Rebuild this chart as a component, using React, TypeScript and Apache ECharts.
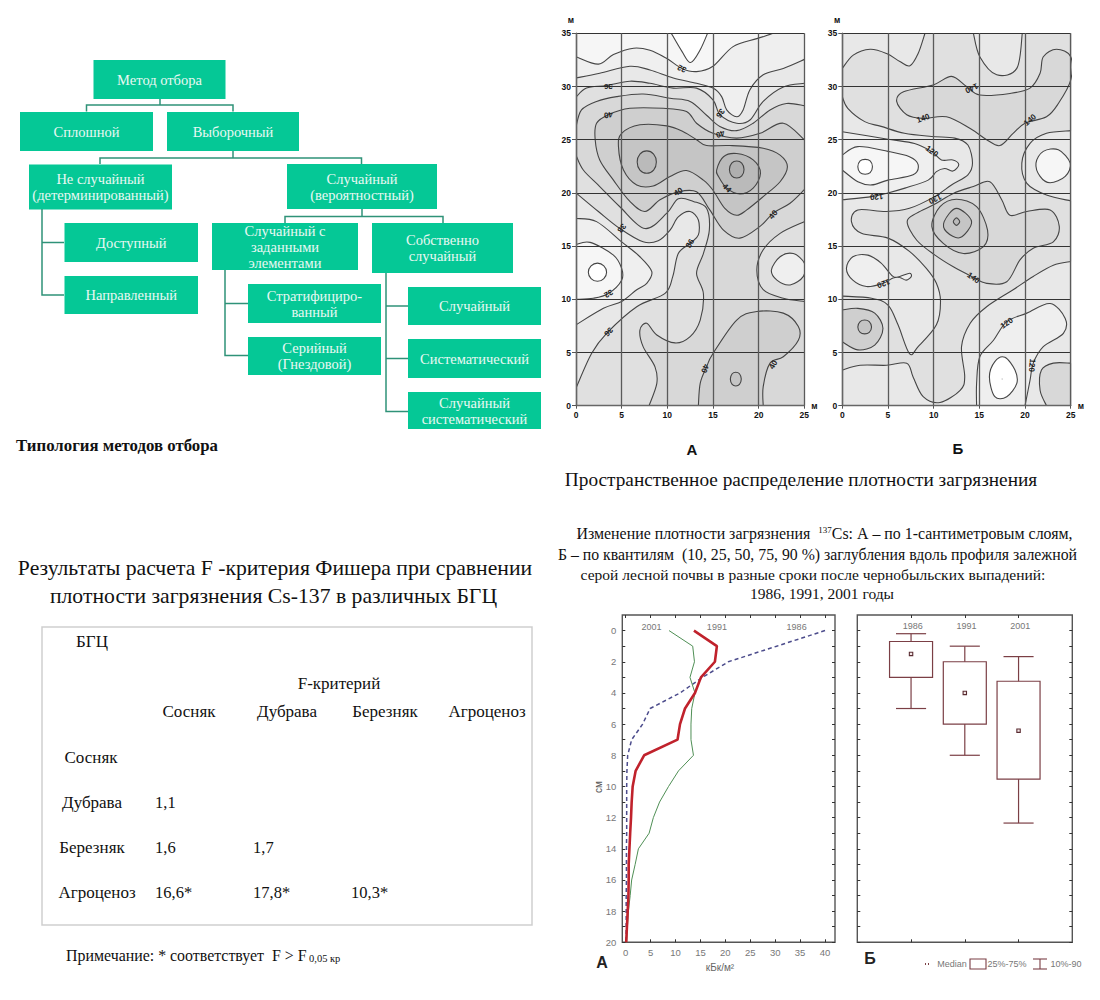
import React, { useEffect, useRef } from "react";
import * as echarts from "echarts";

type Pt = number[];
const SERIF = '"Liberation Serif", serif';
const SANS = '"Liberation Sans", sans-serif';

// ---------- contour levels of map A, metres ----------
const aC1: Pt[] = [[10.3,35.2],[11.6,33.3],[12.55,32.25],[13.6,33.45],[14.5,35.2]];
const aC2: Pt[] = [[-0.5,33],[0,32.8],[2.45,32.1],[4.1,33],[6.3,33.6],[8.1,33.4],[9.9,32.65],[11.6,31.7],[13.2,31.4],[15,31.9],[17.2,33.75],[19.8,34.5],[21.6,35],[22.6,35.4]];
const aC3: Pt[] = [[0,30.8],[2.6,31.25],[5.9,31.9],[8.1,31.55],[10.65,30.8],[13.2,30.3],[15,29.85],[15.95,29.05],[16.5,27.8],[17.6,27.15],[18.3,27.8],[19.05,29.7],[20.5,31.1],[22.7,31.7],[25,32.55]];
const aC4: Pt[] = [[0,29],[1.15,29.85],[3.35,30.1],[5.9,30.5],[8.1,30.3],[10.65,29.85],[13.2,29.85],[15,28.75],[15.8,27.3],[17.6,26.55],[19.05,26.85],[20.5,28.6],[22.7,29.95],[25,30.3]];
const aC5: Pt[] = [[0,26.2],[0.6,27.8],[2.25,28.6],[4.45,29.05],[7.35,29.3],[10.3,28.9],[12.5,28.6],[14.3,27.3],[15.75,26.25],[17.6,25.85],[19.4,26.55],[21.25,27.8],[23.05,28.4],[25,28.2]];
const aC6: Pt[] = [[25,20.3],[23.4,19],[21.6,18.1],[20.15,16.85],[17.95,15.75],[16.15,16.5],[14.65,18.4],[13.2,20.1],[11.2,20.1],[9.2,19.35],[7.55,18.25],[5.9,19.2],[4.1,21.2],[2.6,23.1],[2.1,25],[2.25,26.55],[3.55,27.35],[5.9,27.95],[9.55,27.95],[12.1,27.65],[13.2,26.55],[15,25.6],[17.6,25.15],[20.15,25.6],[22.7,26.55],[25,25]];
const aCore: Pt[] = [[4.65,24.35],[5,25.6],[7,26.4],[9.95,26.3],[11.75,25.75],[13.2,25],[14.3,24.45],[16.85,24.45],[20.5,24.2],[22.35,23.55],[23.15,22.45],[22.35,21.05],[20.5,19.65],[18.7,18.4],[17.6,17.9],[16.3,18.55],[15,20.25],[13.95,21.2],[12.1,22.1],[10.3,21.55],[8.45,20.65],[6.65,20.75],[5.2,22.15]];
const aOval: Pt[] = [[15.4,22.15],[16.15,23.4],[17.6,23.7],[19.4,23.1],[20.2,21.85],[19.4,20.45],[17.95,19.9],[16.5,20.45],[15.6,21.55]];
const aPeak1: Pt[] = [[6.7,22.9],[7,23.65],[7.75,23.95],[8.5,23.65],[8.8,22.9],[8.5,22.15],[7.75,21.85],[7,22.15]];
const aPeak2: Pt[] = [[16.8,22.2],[17.05,22.8],[17.6,23],[18.15,22.8],[18.4,22.2],[18.15,21.6],[17.6,21.4],[17.05,21.6]];
const aL1: Pt[] = [[0,23.55],[0.8,22.15],[2.6,20.6],[4.8,18.7],[7.55,16.65],[9.95,18.1],[11.2,19.45],[12.85,19.2],[14.3,18.55],[14.6,16.5],[13.95,14.3],[13.2,12.45],[13.95,10.55],[13.6,8.05],[12.5,6.5],[10.85,5.9],[8.85,6.65],[7.75,7.75],[7,7.1],[7.35,5.55],[8.65,3.65],[8.85,2.1],[8,0]];
const aL2: Pt[] = [[0,20],[2.45,18.25],[4.8,16.65],[7.35,15.4],[9,15.5],[10.3,16.5],[11.2,17.75],[12.5,18.25],[13.4,17.45],[13.4,16.05],[12.5,15.25],[11.2,14.3],[10.6,12.15],[9.75,10.55],[6.65,9.3],[3.35,6.8],[1.7,4.9],[0,1.65]];
const aY: Pt[] = [[0,17.6],[2.25,17.3],[5,15.4],[7,14],[8.3,12.6],[7.75,11.5],[6.65,10.9],[5,9.8],[3,9.15],[0,7.6]];
const aX: Pt[] = [[0,15.15],[1.55,15.35],[4.1,14.15],[5,12.9],[5,11.8],[3.55,10.55],[1.9,10.1],[0,10]];
const aLow: Pt[] = [[1.35,12.55],[1.65,13.15],[2.35,13.4],[3.05,13.15],[3.35,12.55],[3.05,11.95],[2.35,11.7],[1.65,11.95]];
const aRightOuter: Pt[] = [[25,17.3],[22.35,16.2],[20.5,14.65],[19.8,12.75],[20.5,10.9],[22.7,10.1],[25,9.8]];
const aRightInner: Pt[] = [[21.4,12.75],[22.35,14],[23.8,14.3],[25,13.4],[24.9,12.15],[23.45,11.35],[22,11.8]];
const aBottom: Pt[] = [[13.4,0],[13.6,2.1],[14.3,3.65],[15,4.9],[17.6,8.05],[19.8,8.85],[22.7,8.7],[24.35,7.45],[24.35,6.15],[22.7,4.6],[21.25,4],[20.5,1.8],[20.5,0]];
const aBottomOval: Pt[] = [[16.9,2.5],[17.1,3],[17.5,3.15],[17.9,3],[18.1,2.5],[17.9,2],[17.5,1.85],[17.1,2]];

// ---------- contour levels of map Б, metres ----------
const bT1: Pt[] = [[9.05,35],[8.3,33.1],[7.4,31.95],[6.3,32.35],[4.85,33.1],[3.05,33.5],[1.2,32.95],[0,31.7]];
const bTop: Pt[] = [[14.35,35],[15.05,32.8],[16.9,31.1],[19.1,31.7],[19.7,35]];
const bD1: Pt[] = [[5.95,28.6],[6.7,29.5],[9.95,30.15],[11.95,30.95],[13.6,30],[15.05,29.2],[18.35,29.35],[20.55,29.85],[21.65,31.25],[22,32.8],[23.45,33.5],[25,32.8],[25,30.6],[23.65,28.4],[22.35,27.15],[20,26.55],[18.7,25.6],[17.25,24.45],[15.8,25],[14,26.05],[11.4,27.15],[8.85,27],[7.05,27.35]];
const bT8: Pt[] = [[0,29.05],[0.6,27.95],[2.45,26.7],[4.25,26.25],[6.8,25.6],[9.75,25.3],[12.3,25.15],[13.75,24.5],[14.25,22.8],[13.75,21.7],[11.95,20.75],[10.1,19.65],[7.35,18.55],[4.8,18.25],[1.7,18.4],[1,17.3],[2.1,16.2],[5,15.75],[7.35,14.5],[9.2,12.9],[10.3,11.5],[10.75,9.8],[10.3,7.6],[8.3,5.55],[7.35,4.9],[6.1,7.6],[5,9.45],[3.2,10.1],[0,10.3]];
const bT3: Pt[] = [[0,25.75],[5,25.05],[7.9,24.65],[9.75,23.9],[10.85,23.1],[12.1,23.1],[12.75,22.65],[12.1,22.05],[11.2,22.3],[10.3,22],[9.4,21.2],[6.85,20.45],[4.8,19.95],[3.2,19.65],[0,19.35]];
const bT4: Pt[] = [[0,23.55],[1.7,24.35],[5,23.9],[7.35,23.4],[8.3,22.65],[7.75,21.7],[5,21.2],[3.2,20.75],[1.7,21.05],[0,22.15]];
const bLow: Pt[] = [[1.7,22.45],[1.95,23],[2.5,23.15],[3.05,23],[3.3,22.45],[3.05,21.9],[2.5,21.75],[1.95,21.9]];
const bT9: Pt[] = [[0.45,12.9],[1.15,14],[2.8,14.15],[4.25,13.4],[5.55,12.15],[6.3,12.15],[7.35,12.45],[7.55,12.15],[7,11.8],[6.3,12.05],[5.55,12],[4.45,11.5],[2.65,11.2],[1.15,11.8]];
const bLobe: Pt[] = [[7.1,17.3],[8.15,18.1],[10.15,18.95],[12.15,19.95],[14.35,20.6],[16.15,21.05],[17.45,19.35],[18.35,17.9],[20.2,18.25],[22.75,18.4],[23.75,16.85],[23.1,15.4],[20.9,14.8],[19.45,13.7],[18,11.65],[15.8,11.5],[14.15,12.15],[12.15,13.05],[10.15,14.15],[8.15,15.55]];
const bPeak1: Pt[] = [[9.8,16.85],[10.7,18.7],[12.5,19.4],[14.7,18.7],[15.9,16.5],[15.45,14.95],[13.25,14.3],[11.05,15.25]];
const bPeak2: Pt[] = [[11.15,17.3],[12.5,18.55],[14.15,17.3],[12.9,15.8],[11.4,16.35]];
const bPeak3: Pt[] = [[12.15,17.3],[12.5,17.65],[12.85,17.3],[12.5,16.95]];
const bLeft1: Pt[] = [[0,9],[1.7,9.15],[3.55,8.7],[4.45,7.25],[3.55,5.7],[1.7,5.25],[0,6]];
const bLeft2: Pt[] = [[1.7,7.4],[1.95,7.9],[2.45,8.05],[2.95,7.9],[3.2,7.4],[2.95,6.9],[2.45,6.75],[1.95,6.9]];
const bT6: Pt[] = [[25,13.55],[23.1,13.2],[20.9,12.15],[18.7,10.9],[15.8,9.3],[14,7.75],[13.05,5.55],[13.4,2.7],[12.9,1.45],[10.7,0.3],[8.85,0.85],[7.75,2.7],[7.05,4],[4.85,3.8],[1.95,3.8],[0,3.35]];
const bT10: Pt[] = [[14.7,0],[14.7,2.1],[15.05,4.6],[16.55,6.15],[18,7.9],[20.2,8.7],[22.75,9.6],[24.4,8.2],[24.2,6.8],[22,5.55],[20.9,4],[20.55,2.4],[20,0]];
const bOval: Pt[] = [[16.1,2.7],[16.7,4.15],[17.8,4.55],[18.9,3.35],[19.1,2.1],[18,0.85],[16.7,0.85]];
const bOvalDot: Pt[] = [[17.42,2.5],[17.5,2.58],[17.58,2.5],[17.5,2.42]];
const bCorner: Pt[] = [[22.35,0],[21.65,1.45],[21.8,3.35],[23.1,4],[25,4]];
const bRightOuter: Pt[] = [[25,25.85],[22.35,25.6],[20.55,24.65],[19.65,22.8],[20.2,20.9],[22.35,19.8],[25,19.25]];
const bRightInner: Pt[] = [[21.2,22.8],[22,23.9],[23.65,24.05],[24.95,22.8],[24.4,21.55],[22.75,20.95],[21.65,21.55]];

// contour labels: x, y, text, angle
const aLabels: any[][] = [
  [11.6,31.7,"32",155],[3.55,30,"36",180],[3.55,27.35,"40",190],[15.8,27.5,"36",235],[15.8,25.55,"40",200],
  [11.2,20.1,"40",30],[16.5,20.45,"44",-45],[21.6,17.95,"40",50],[5,16.7,"38",230],[12.5,15.25,"36",60],
  [3.55,10.55,"32",210],[3.55,6.95,"36",225],[14.1,3.5,"40",250],[21.6,3.85,"40",60],
];
const bLabels: any[][] = [
  [14.15,29.85,"140",205],[8.85,27,"140",20],[20.55,26.85,"140",40],[9.8,23.9,"120",-35],[10.15,19.45,"130",205],
  [3.75,19.65,"120",185],[4.5,11.5,"120",200],[14.35,12,"140",-35],[18,7.75,"120",35],[20.75,3.8,"120",265],
];

// ---------- soil profile ----------
const depths = [0,1,2,3,4,5,6,7,8,9,10,11,12,13,14,15,16,17,18,19,20];
const y1986 = [40,30.3,20.6,15.4,10.9,4.9,3.4,1.2,0.4,0.25,0.2,0.2,0.2,0.2,0.15,0.15,0.15,0.1,0.1,0.1,0.1];
const y1991 = [13.7,18.3,17.9,15.1,13.9,11.9,10.9,10.4,3.7,2,1.4,1.2,1.07,0.9,0.75,0.6,0.6,0.55,0.4,0.25,0.1];
const y2001 = [8.7,13.45,13.8,12.9,13.9,13.25,13.1,13.1,13.6,10.6,8.6,6.8,5.55,4.7,2.55,1.9,1.2,0.9,0.55,0.35,0.2];
const profileYearLabels: any[][] = [[5.2,-0.2,"2001",0],[18.3,-0.2,"1991",0],[34.3,-0.2,"1986",0]];

const boxYears = ["1986","1991","2001"];
const p10 = [0.2,1,1.67];
const q25 = [0.7,2,3.25];
const medians = [1.5,4,6.42];
const q75 = [3,6,9.53];
const p90 = [5,8,12.35];

// ---------- organisational chart ----------
const orgLabels = [
  "Метод отбора","Сплошной","Выборочный","Не случайный\n(детерминированный)","Доступный","Направленный",
  "Случайный\n(вероятностный)","Случайный с\nзаданными\nэлементами","Собственно\nслучайный","Стратифициро-\nванный",
  "Серийный\n(Гнездовой)","Случайный","Систематический","Случайный\nсистематический",
];

// ---------- table ----------
const tableColumns = ["Сосняк","Дубрава","Березняк","Агроценоз"];
const tableRows = ["Сосняк","Дубрава","Березняк","Агроценоз"];
const fValues = [["","",""],["1,1","",""],["1,6","1,7",""],["16,6*","17,8*","10,3*"]];

const shades = ["#ffffff","#f6f6f6","#efefef","#e8e8e8","#e0e0e0","#d8d8d8","#cfcfcf","#c5c5c5","#bababa","#afafaf"];
const W = -2, E = 27, S = -2, N = 37;

const layersA: any[] = [
  { pts: [[W,N],[E,N],[E,S],[W,S]], band: 5, closed: true, noLine: true },
  { pts: aC5, band: 4, via: [[E,28.2],[E,N],[W,N],[W,26.2]] },
  { pts: aC4, band: 3, via: [[E,30.3],[E,N],[W,N],[W,29]] },
  { pts: aC3, band: 2, via: [[E,32.55],[E,N],[W,N],[W,30.8]] },
  { pts: aC2, band: 1, via: [[23,N],[W,N]] },
  { pts: aC1, band: 0, via: [[14.5,N],[10.3,N]] },
  { pts: aL1, band: 4, via: [[8,S],[W,S],[W,23.55]] },
  { pts: aL2, band: 3, via: [[W,1.65],[W,20]] },
  { pts: aY, band: 2, via: [[W,7.6],[W,17.6]] },
  { pts: aX, band: 1, via: [[W,10],[W,15.15]] },
  { pts: aLow, band: 0, closed: true },
  { pts: aRightOuter, band: 4, via: [[E,9.8],[E,17.3]] },
  { pts: aRightInner, band: 2, closed: true },
  { pts: aC6, band: 6, via: [[E,25],[E,20.3]] },
  { pts: aCore, band: 7, closed: true },
  { pts: aOval, band: 8, closed: true },
  { pts: aPeak2, band: 9, closed: true },
  { pts: aPeak1, band: 8, closed: true },
  { pts: aBottom, band: 6, via: [[20.5,S],[13.4,S]] },
  { pts: aBottomOval, band: 7, closed: true },
];

const layersB: any[] = [
  { pts: [[W,N],[E,N],[E,S],[W,S]], band: 4, closed: true, noLine: true },
  { pts: bT1, band: 3, via: [[W,31.7],[W,N],[9.05,N]] },
  { pts: bTop, band: 3, via: [[19.7,N],[14.35,N]] },
  { pts: bD1, band: 5, closed: true },
  { pts: bT6, band: 3, via: [[W,3.35],[W,S],[E,S],[E,13.55]] },
  { pts: bT8, band: 3, via: [[W,10.3],[W,29.05]] },
  { pts: bT3, band: 2, via: [[W,19.35],[W,25.75]] },
  { pts: bT4, band: 1, via: [[W,22.15],[W,23.55]] },
  { pts: bLow, band: 0, closed: true },
  { pts: bT9, band: 2, closed: true },
  { pts: bLobe, band: 5, closed: true },
  { pts: bPeak1, band: 6, closed: true },
  { pts: bPeak2, band: 7, closed: true },
  { pts: bPeak3, band: 8, closed: true },
  { pts: bLeft1, band: 6, via: [[W,6],[W,9]] },
  { pts: bLeft2, band: 7, closed: true },
  { pts: bT10, band: 2, via: [[20,S],[14.7,S]] },
  { pts: bOval, band: 0, closed: true },
  { pts: bOvalDot, band: 7, closed: true, noLine: true },
  { pts: bCorner, band: 5, via: [[E,4],[E,S],[22.35,S]] },
  { pts: bRightOuter, band: 3, via: [[E,19.25],[E,25.85]] },
  { pts: bRightInner, band: 1, closed: true },
];

function curve(p: number[][], closed: boolean): string {
  const n = p.length;
  const at = (i: number) => (closed ? p[(i + n) % n] : p[Math.max(0, Math.min(n - 1, i))]);
  let d = "M" + p[0][0].toFixed(2) + " " + p[0][1].toFixed(2);
  const last = closed ? n : n - 1;
  for (let i = 0; i < last; i++) {
    const p0 = at(i - 1), p1 = at(i), p2 = at(i + 1), p3 = at(i + 2);
    d += " C" + (p1[0] + (p2[0] - p0[0]) / 6).toFixed(2) + " " + (p1[1] + (p2[1] - p0[1]) / 6).toFixed(2)
      + " " + (p2[0] - (p3[0] - p1[0]) / 6).toFixed(2) + " " + (p2[1] - (p3[1] - p1[1]) / 6).toFixed(2)
      + " " + p2[0].toFixed(2) + " " + p2[1].toFixed(2);
  }
  return d;
}

function contourSeries(layers: any[], axis: number) {
  return {
    type: "custom", coordinateSystem: "cartesian2d", xAxisIndex: axis, yAxisIndex: axis, clip: true, z: 1, silent: true,
    data: layers.map((_, i) => [i]),
    encode: { x: -1, y: -1 },
    renderItem: (params: any, api: any) => {
      const l = layers[params.dataIndex];
      const px = l.pts.map((q: number[]) => api.coord(q));
      const line = curve(px, !!l.closed);
      let fill = l.closed ? line + " Z" : line;
      if (l.via) fill += " " + l.via.map((q: number[]) => { const c = api.coord(q); return "L" + c[0].toFixed(2) + " " + c[1].toFixed(2); }).join(" ") + " Z";
      const children: any[] = [{ type: "path", shape: { pathData: fill }, style: { fill: shades[l.band], stroke: "none" } }];
      if (!l.noLine) children.push({ type: "path", shape: { pathData: l.closed ? line + " Z" : line }, style: { fill: "none", stroke: "#454545", lineWidth: 1.1 } });
      return { type: "group", children };
    },
  };
}

function textSeries(items: any[][], axis: number, font: any) {
  return {
    type: "custom", coordinateSystem: "cartesian2d", xAxisIndex: axis, yAxisIndex: axis, clip: false, z: 4, silent: true,
    data: items.map((it) => [it[0], it[1]]),
    renderItem: (params: any, api: any) => {
      const it = items[params.dataIndex];
      const c = api.coord([it[0], it[1]]);
      return { type: "text", x: c[0], y: c[1], rotation: (it[3] * Math.PI) / 180,
        style: { text: it[2], align: "center", verticalAlign: "middle", ...font } };
    },
  };
}

function mapAxes(idx: number) {
  const base = { type: "value", gridIndex: idx, min: 0, interval: 5, z: 3 };
  const label = { fontFamily: SANS, fontWeight: "bold", fontSize: 8.5, color: "#111" };
  return {
    x: { ...base, max: 25, name: "м", nameGap: 7, nameTextStyle: { ...label, padding: [17, 0, 0, 0] },
      axisLine: { lineStyle: { color: "#666", width: 1.4 } }, axisTick: { length: 3, lineStyle: { color: "#555" } },
      axisLabel: { ...label, margin: 5 }, splitLine: { lineStyle: { color: "#5a5a5a", width: 1.3 } } },
    y: { ...base, max: 35, name: "м", nameGap: 9, nameTextStyle: { ...label, align: "right", padding: [0, 2, 0, 0] },
      axisLine: { lineStyle: { color: "#666", width: 1.4 } }, axisTick: { length: 4, lineStyle: { color: "#555" } },
      axisLabel: { ...label, margin: 5 }, splitLine: { lineStyle: { color: "#333", width: 1.2 } } },
  };
}

const tickAxis = { lineStyle: { color: "#333", width: 1 } };
const depthTicks = depths;

function sideAxis(gridIndex: number, position: string, labels: boolean) {
  return {
    type: "value", gridIndex, position, min: -1, max: 20, inverse: true, splitLine: { show: false },
    axisLine: { show: false, onZero: false },
    axisTick: { show: true, inside: true, length: 3, customValues: depthTicks, ...tickAxis },
    axisLabel: labels
      ? { show: true, customValues: depths.filter((d) => d % 2 === 0), color: "#777", fontFamily: SANS, fontSize: 9.5, margin: 6 }
      : { show: false },
  };
}

const profileTicks = [0,5,10,15,20,25,30,35,40];
function profileX(position: string, labels: boolean) {
  return {
    type: "value", gridIndex: 2, position, min: -0.68, max: 42, splitLine: { show: false }, axisLine: { show: false, onZero: false },
    axisTick: { show: true, inside: true, length: 3, customValues: profileTicks, ...tickAxis },
    axisLabel: labels ? { show: true, customValues: profileTicks, color: "#777", fontFamily: SANS, fontSize: 9.5, margin: 5 } : { show: false },
  };
}
const boxTicks = [1, 2, 3];
function boxX(position: string) {
  return {
    type: "value", gridIndex: 3, position, min: 0, max: 4, splitLine: { show: false }, axisLine: { show: false, onZero: false },
    axisTick: { show: true, inside: true, length: 3, customValues: boxTicks, ...tickAxis }, axisLabel: { show: false },
  };
}

const BOX = "#7b3f45";

function buildGraphic() {
  const els: any[] = [];
  const text = (t: string, x: number, y: number, o: any = {}) =>
    els.push({ type: "text", x, y, silent: true, z: 10, style: { text: t, align: "center", verticalAlign: "middle", fontFamily: SERIF, fontSize: 17, fill: "#111", ...o } });
  const orgRects = [
    [93.5,60,132,39],[20,112,133,39],[167,112,132,39],[29,164.5,143,45],[64.5,223,133.5,39],[64.5,276,133.5,38],
    [287,164,150,45],[212,223,146,47],[372,223,141,50],[248,284,133,39],[248,337,133,38],[408,287,133,38],[408,339,133,39],[408,392,133,37],
  ];
  orgRects.forEach((r, i) => {
    els.push({ type: "rect", silent: true, shape: { x: r[0], y: r[1], width: r[2], height: r[3] }, style: { fill: "#05c896" } });
    text(orgLabels[i], r[0] + r[2] / 2, r[1] + r[3] / 2, { fill: "#e9f8f3", fontSize: 14.5, lineHeight: 16 });
  });
  const links = [
    [[160,99],[160,105]],[[86.5,111.5],[86.5,105],[233,105],[233,111.5]],
    [[233,151],[233,158]],[[100,164],[100,158],[361.5,158],[361.5,164]],
    [[42,209],[42,295],[64,295]],[[42,242.5],[64,242.5]],
    [[362,209],[362,216.5]],[[285,223],[285,216.5],[443,216.5],[443,223]],
    [[225,270],[225,355.5],[248,355.5]],[[225,303.5],[248,303.5]],
    [[386,273],[386,411.5],[408,411.5]],[[386,306],[408,306]],[[386,358.5],[408,358.5]],
  ];
  links.forEach((l) => els.push({ type: "polyline", silent: true, shape: { points: l }, style: { stroke: "#2f9278", lineWidth: 1.5, fill: "none" } }));

  text("Типология методов отбора", 117, 445, { fontWeight: "bold", fontSize: 16.8 });
  text("А", 692, 449, { fontFamily: SANS, fontWeight: "bold", fontSize: 15 });
  text("Б", 958, 448, { fontFamily: SANS, fontWeight: "bold", fontSize: 15 });
  text("Пространственное распределение плотности загрязнения", 801, 479, { fontSize: 19.3 });
  text("Изменение плотности загрязнения  {sup|137}Cs: А – по 1-сантиметровым слоям,", 824.5, 533, { fontSize: 15.9, rich: { sup: { fontSize: 9, verticalAlign: "top", fontFamily: SERIF, fill: "#111" } } });
  text("Б – по квантилям  (10, 25, 50, 75, 90 %) заглубления вдоль профиля залежной", 817.5, 554, { fontSize: 15.8 });
  text("серой лесной почвы в разные сроки после чернобыльских выпадений:", 813, 574, { fontSize: 15.5 });
  text("1986, 1991, 2001 годы", 822, 593, { fontSize: 15.5 });

  text("Результаты расчета F -критерия Фишера при сравнении", 275, 568, { fontSize: 21.7 });
  text("плотности загрязнения Cs-137 в различных БГЦ", 273.5, 596, { fontSize: 21.7 });
  els.push({ type: "rect", silent: true, shape: { x: 42, y: 627, width: 490, height: 298 }, style: { fill: "none", stroke: "#cfcfcf", lineWidth: 1.5 } });
  text("БГЦ", 92, 641);
  text("F-критерий", 339, 683);
  const colX = [189, 287, 385, 487];
  tableColumns.forEach((c, i) => text(c, colX[i], 711));
  const rowX = [91, 92, 92, 97], rowY = [757, 802, 847, 892], valX = [155, 253, 351];
  tableRows.forEach((r, i) => {
    text(r, rowX[i], rowY[i]);
    fValues[i].forEach((v, j) => { if (v) text(v, valX[j], rowY[i], { align: "left", fontSize: 16.5 }); });
  });
  text("Примечание: * соответствует  F > F", 66, 955, { align: "left", fontSize: 15.9 });
  text("0,05 кр", 309, 958.5, { align: "left", fontSize: 10.5 });

  text("см", 598, 787, { fontFamily: SANS, fontSize: 10, fill: "#555" });
  els[els.length - 1].rotation = Math.PI / 2;
  text("кБк/м²", 720, 967, { fontFamily: SANS, fontSize: 10, fill: "#666" });
  text("А", 602, 962, { fontFamily: SANS, fontWeight: "bold", fontSize: 16, fill: "#222" });
  text("Б", 870, 958, { fontFamily: SANS, fontWeight: "bold", fontSize: 16, fill: "#222" });

  const small = { fontFamily: SANS, fontSize: 9, fill: "#777" };
  text("Median", 952, 964, small);
  text("25%-75%", 1007, 964, small);
  text("10%-90", 1066, 964, small);
  [925, 928].forEach((x) => els.push({ type: "rect", silent: true, shape: { x, y: 963, width: 1, height: 2 }, style: { fill: BOX } }));
  els.push({ type: "rect", silent: true, shape: { x: 970, y: 959, width: 16, height: 10 }, style: { fill: "none", stroke: BOX, lineWidth: 1.1 } });
  const w: number[][][] = [[[1033,959],[1047,959]],[[1040,959],[1040,969]],[[1033,969],[1047,969]]];
  w.forEach((l) => els.push({ type: "polyline", silent: true, shape: { points: l }, style: { stroke: BOX, lineWidth: 1.1, fill: "none" } }));
  return els;
}

function buildOption(): any {
  const a = mapAxes(0), b = mapAxes(1);
  const frame = { show: true, borderColor: "#555", borderWidth: 1.4, backgroundColor: "#fff" };
  const labelFont = { fontFamily: SANS, fontWeight: "bold", fontSize: 8, fill: "#222" };
  const yearFont = { fontFamily: SANS, fontSize: 9, fill: "#777" };
  return {
    animation: false,
    backgroundColor: "#fff",
    textStyle: { fontFamily: SANS },
    grid: [
      { left: 576, top: 33.3, width: 228.3, height: 372.4 },
      { left: 842.3, top: 33.3, width: 228.4, height: 372.4 },
      { left: 622.3, top: 615, width: 212.7, height: 327.3, ...frame },
      { left: 857.3, top: 615, width: 215, height: 327.3, ...frame },
    ],
    xAxis: [a.x, b.x, profileX("bottom", true), profileX("top", false), boxX("bottom"), boxX("top")],
    yAxis: [a.y, b.y, sideAxis(2, "left", true), sideAxis(2, "right", false), sideAxis(3, "left", false), sideAxis(3, "right", false)],
    series: [
      contourSeries(layersA, 0),
      contourSeries(layersB, 1),
      textSeries(aLabels, 0, labelFont),
      textSeries(bLabels, 1, labelFont),
      { type: "line", name: "1986", xAxisIndex: 2, yAxisIndex: 2, showSymbol: false, data: y1986.map((v, i) => [v, depths[i]]), lineStyle: { color: "#4c4c8c", width: 1.5, type: [4, 3] }, z: 2 },
      { type: "line", name: "2001", xAxisIndex: 2, yAxisIndex: 2, showSymbol: false, data: y2001.map((v, i) => [v, depths[i]]), lineStyle: { color: "#4f8f55", width: 1 }, z: 2 },
      { type: "line", name: "1991", xAxisIndex: 2, yAxisIndex: 2, showSymbol: false, data: y1991.map((v, i) => [v, depths[i]]), lineStyle: { color: "#c0222c", width: 2.6 }, z: 3 },
      textSeries(profileYearLabels, 2, yearFont),
      {
        type: "custom", coordinateSystem: "cartesian2d", xAxisIndex: 4, yAxisIndex: 4, silent: true, z: 2,
        data: boxYears.map((_, i) => [i + 1, p10[i], q25[i], medians[i], q75[i], p90[i]]),
        encode: { x: 0, y: [1, 2, 3, 4, 5] },
        renderItem: (_p: any, api: any) => {
          const x = api.value(0);
          const c = (u: number, v: number) => api.coord([u, v]);
          const stroke = { stroke: BOX, lineWidth: 1.2, fill: "none" };
          const line = (p: number[], q: number[]) => ({ type: "line", shape: { x1: p[0], y1: p[1], x2: q[0], y2: q[1] }, style: stroke });
          const tl = c(x - 0.4, api.value(2)), br = c(x + 0.4, api.value(4));
          const m = c(x, api.value(3));
          return { type: "group", children: [
            line(c(x, api.value(1)), c(x, api.value(2))),
            line(c(x, api.value(4)), c(x, api.value(5))),
            line(c(x - 0.28, api.value(1)), c(x + 0.28, api.value(1))),
            line(c(x - 0.28, api.value(5)), c(x + 0.28, api.value(5))),
            { type: "rect", shape: { x: tl[0], y: tl[1], width: br[0] - tl[0], height: br[1] - tl[1] }, style: stroke },
            { type: "rect", shape: { x: m[0] - 1.7, y: m[1] - 1.7, width: 3.4, height: 3.4 }, style: { stroke: "#5a2c32", lineWidth: 1.1, fill: "#f4e8e8" } },
          ] };
        },
      },
      textSeries(boxYears.map((y, i) => [i + 1.03, -0.3, y, 0]), 4, yearFont),
    ],
    graphic: { elements: buildGraphic() },
  };
}

export default function App() {
  const ref = useRef<HTMLDivElement>(null);
  useEffect(() => {
    const chart = echarts.init(ref.current as HTMLDivElement, undefined, { renderer: "svg" });
    chart.setOption(buildOption());
    return () => chart.dispose();
  }, []);
  return <div ref={ref} style={{ position: "absolute", left: 0, top: 0, width: 1100, height: 1000 }} />;
}
